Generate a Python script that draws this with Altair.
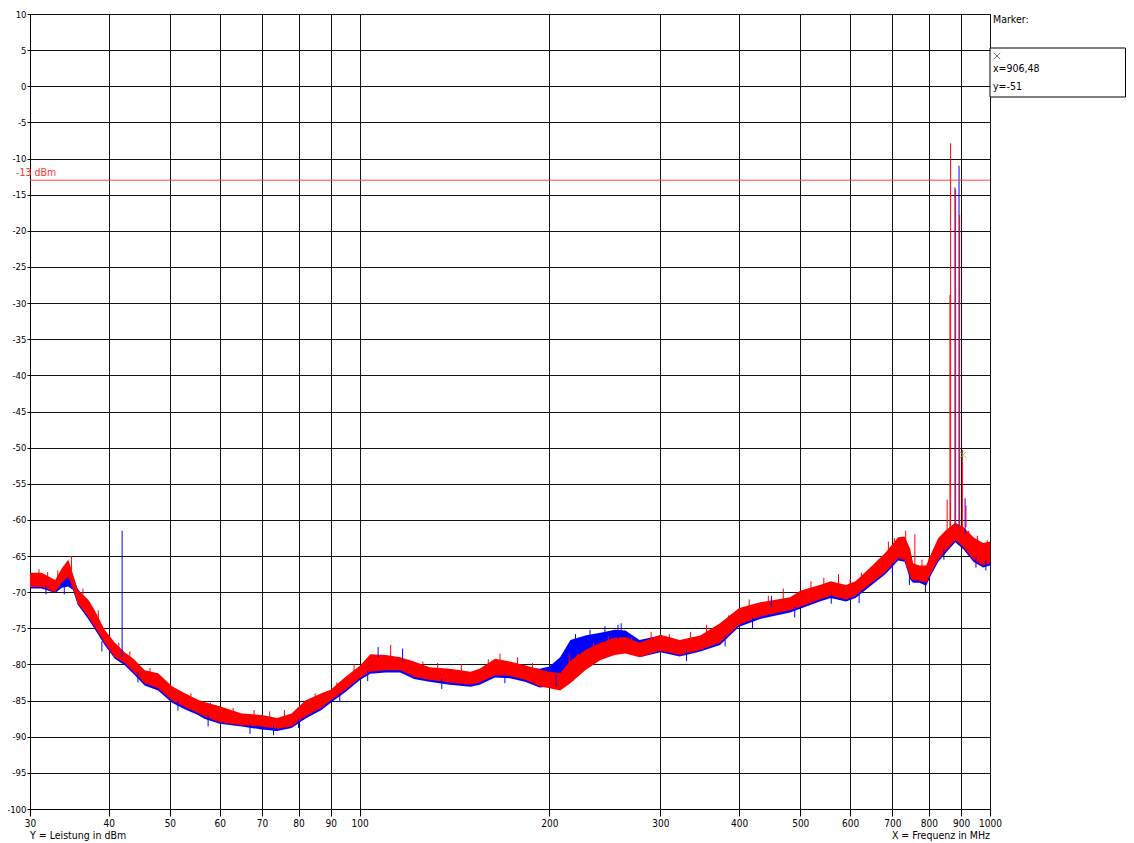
import altair as alt
import pandas as pd

FONT = "Liberation Sans Narrow, DejaVu Sans Condensed, Arial Narrow, sans-serif"

# Frequency grid (MHz) at which the envelopes were read
freq = [30, 31.3, 32.9, 33.7, 34.5, 35.1, 35.7, 37.1, 38.0, 39.4, 40.9, 42.4, 44.0, 45.6,
        47.9, 50.4, 52.8, 55.4, 56.7, 60, 65, 70, 74, 78, 82, 87, 90, 95, 100, 104, 110,
        116, 122, 129, 139, 150, 155, 164, 173, 183, 193, 200, 208, 216, 228, 241, 254,
        264, 278, 300, 322, 347, 373, 400, 432, 482, 500, 537, 559, 591, 612, 647, 683,
        715, 732, 747, 755, 773, 792, 808, 828, 852, 881, 908, 941, 975, 1000]

red_hi = [-67.3, -67.3, -68.3, -66.7, -65.5, -67.5, -69.7, -71.0, -72.5, -75.2, -77.0, -78.3,
          -79.4, -80.8, -81.2, -83.0, -84.0, -84.9, -85.2, -85.8, -86.8, -87.0, -87.4, -86.8,
          -85.0, -84.0, -83.5, -81.7, -80.2, -78.6, -78.7, -79.0, -79.6, -80.4, -80.6, -81.0,
          -80.6, -79.2, -79.6, -80.1, -80.7, -81.0, -81.2, -79.5, -78.0, -77.0, -76.3, -76.2,
          -77.0, -75.9, -76.6, -76.0, -74.3, -72.2, -71.4, -70.7, -69.8, -69.0, -68.5, -69.0,
          -68.5, -66.5, -64.5, -62.4, -62.3, -64.0, -66.0, -66.3, -66.3, -64.5, -62.5, -61.4,
          -60.4, -61.0, -62.4, -63.2, -63.0]
red_lo = [-69.3, -69.3, -70.0, -68.7, -67.9, -69.5, -71.5, -73.4, -74.8, -77.0, -79.0, -79.8,
          -81.2, -82.6, -83.3, -85.0, -85.9, -86.7, -87.2, -88.0, -88.4, -88.6, -88.9, -88.6,
          -87.2, -86.0, -85.0, -83.5, -81.9, -81.0, -80.8, -80.8, -81.7, -82.1, -82.5, -82.8,
          -82.5, -81.5, -81.6, -82.1, -83.0, -83.3, -83.6, -82.6, -80.8, -79.4, -78.7, -78.5,
          -79.0, -78.1, -78.7, -78.0, -77.0, -74.5, -73.4, -72.5, -72.0, -71.0, -70.5, -71.0,
          -70.5, -68.8, -67.2, -65.3, -65.5, -67.9, -68.4, -68.4, -68.8, -67.2, -65.5, -64.2,
          -62.8, -63.8, -65.5, -66.3, -66.0]

blue_hi = [-67.8, -67.8, -69.0, -68.0, -67.8, -67.8, -69.5, -71.5, -73.2, -75.5, -77.3, -78.6,
           -79.8, -81.2, -81.6, -83.3, -84.3, -85.2, -85.5, -86.0, -87.0, -87.3, -87.6, -87.0,
           -85.4, -84.3, -83.8, -82.0, -80.5, -79.0, -79.0, -79.3, -79.8, -80.6, -80.9, -81.2,
           -80.9, -79.5, -79.8, -80.3, -80.6, -80.3, -79.0, -76.6, -76.0, -75.6, -75.2, -75.3,
           -76.6, -76.0, -76.8, -76.2, -74.6, -72.5, -71.6, -71.0, -70.0, -69.2, -68.7, -69.3,
           -68.8, -66.8, -64.8, -62.7, -62.6, -64.3, -66.3, -66.6, -66.6, -64.8, -62.8, -61.7,
           -60.7, -61.3, -62.7, -63.5, -63.3]
blue_lo = [-69.5, -69.5, -70.1, -69.4, -69.2, -69.7, -71.7, -73.7, -75.1, -77.3, -79.2, -80.1,
           -81.5, -82.9, -83.6, -85.3, -86.2, -87.0, -87.5, -88.2, -88.6, -89.0, -89.2, -88.8,
           -87.5, -86.3, -85.3, -83.8, -82.2, -81.3, -81.1, -81.1, -82.0, -82.4, -82.8, -83.1,
           -82.8, -81.8, -81.9, -82.4, -83.2, -83.1, -82.2, -80.3, -78.7, -78.0, -77.0, -77.5,
           -79.0, -78.3, -78.9, -78.2, -77.3, -74.8, -73.7, -72.8, -72.3, -71.3, -70.8, -71.3,
           -70.8, -69.1, -67.5, -65.6, -65.8, -68.2, -68.7, -68.7, -69.1, -67.5, -65.8, -64.5,
           -63.1, -64.1, -65.8, -66.6, -66.3]

# Narrow noise spikes and carriers (frequency, bottom, top)
red_spike_f = [31.0, 32.0, 33.2, 34.9, 36.4, 38.5, 41.5, 43.2, 46.5, 49.0, 54.0, 58.0, 63.0,
               68.0, 72.0, 76.0, 85.0, 92.0, 98.0, 112, 126, 133, 145, 160, 167, 178, 188,
               215, 222, 235, 248, 270, 290, 310, 335, 355, 385, 415, 445, 470, 520, 545,
               575, 600, 625, 665, 690, 705, 735, 760, 780, 800, 835, 855, 864, 866, 882,
               895, 904, 916, 925, 955, 990]
red_spike_lo = [-68.5, -69.0, -69.0, -67.0, -71.0, -74.5, -78.5, -80.0, -82.5, -84.0, -85.5,
                -87.0, -87.5, -88.0, -88.0, -88.0, -86.0, -84.5, -82.0, -79.0, -81.5, -81.5,
                -82.0, -81.0, -80.0, -81.0, -82.0, -80.0, -80.5, -79.0, -78.0, -78.0, -77.5,
                -77.5, -77.5, -76.5, -75.0, -73.0, -72.5, -71.5, -70.5, -70.0, -69.5, -70.0,
                -69.5, -67.5, -65.0, -64.5, -64.0, -66.5, -67.5, -67.5, -64.5, -63.0, -62.0,
                -62.0, -61.0, -61.0, -61.0, -61.0, -63.5, -64.5, -65.0]
red_spike_hi = [-66.8, -67.2, -67.0, -65.0, -69.5, -72.5, -77.0, -78.2, -80.5, -82.2, -84.0,
                -85.3, -86.0, -86.3, -86.5, -86.3, -84.0, -82.5, -80.0, -77.3, -79.6, -79.8,
                -80.0, -79.3, -78.5, -79.0, -79.8, -78.5, -78.5, -77.0, -76.0, -76.3, -75.5,
                -75.8, -75.5, -74.5, -73.2, -71.0, -70.5, -69.5, -68.5, -68.0, -67.5, -68.2,
                -67.3, -65.5, -63.0, -62.5, -61.5, -62.0, -65.5, -65.3, -62.5, -57.2, -28.9,
                -7.9, -14.3, -17.8, -50.3, -58.0, -61.5, -62.2, -62.8]

blue_spike_f = [31.8, 34.0, 39.0, 42.0, 44.5, 51.5, 57.5, 67.0, 73.0, 80.0, 93.0, 103, 107,
                117, 135, 170, 205, 220, 232, 245, 257, 260, 330, 380, 420, 450, 490, 560,
                620, 700, 745, 790, 845, 880, 893, 913, 950, 985]
blue_spike_lo = [-70.3, -70.3, -78.2, -79.0, -82.5, -86.4, -88.6, -89.6, -89.8, -88.8, -85.2,
                 -82.3, -79.0, -79.5, -83.4, -82.6, -83.0, -78.5, -77.5, -77.0, -76.5, -75.5,
                 -79.5, -77.5, -75.0, -72.0, -73.5, -71.6, -71.5, -67.5, -69.0, -70.0, -65.5,
                 -61.0, -61.0, -62.0, -66.6, -67.0]
blue_spike_hi = [-69.0, -69.2, -76.8, -61.5, -81.0, -85.0, -87.0, -88.2, -88.4, -87.5, -84.0,
                 -80.8, -77.6, -77.8, -82.0, -81.2, -81.5, -75.8, -75.2, -74.7, -74.5, -74.3,
                 -78.0, -76.0, -73.5, -70.5, -72.0, -70.2, -70.0, -66.0, -67.5, -68.5, -64.0,
                 -14.0, -11.0, -57.0, -65.0, -65.6]

x_ticks = [30, 40, 50, 60, 70, 80, 90, 100, 200, 300, 400, 500, 600, 700, 800, 900, 1000]
y_ticks = list(range(-100, 11, 5))
limit_db = [-13]
marker_x = [906.48]
marker_y = [-51]

W, H = 960, 795

xs = alt.Scale(type="log", domain=[30, 1000], nice=False)
ys = alt.Scale(domain=[-100, 10], nice=False, zero=False)

AX = dict(domainColor="black", tickColor="black", gridColor="#111111", gridOpacity=1,
          gridWidth=1, labelColor="black", labelFont=FONT, domainWidth=1,
          labelOverlap=False, title=None, grid=True, labelExpr="'' + datum.value")
xax = alt.Axis(values=x_ticks, tickSize=7, labelPadding=2, labelFlush=False,
               labelFontSize=10, **AX)
yax = alt.Axis(values=y_ticks, tickSize=3, labelPadding=1, labelFontSize=9.5, **AX)


def X(field):
    return alt.X(field, type="quantitative", scale=xs, axis=xax)


def Y(field):
    return alt.Y(field, type="quantitative", scale=ys, axis=yax)


band_blue = pd.DataFrame({"f": freq, "lo": blue_lo, "hi": blue_hi})
band_red = pd.DataFrame({"f": freq, "lo": red_lo, "hi": red_hi})
sp_red = pd.DataFrame({"f": red_spike_f, "lo": red_spike_lo, "hi": red_spike_hi})
sp_blue = pd.DataFrame({"f": blue_spike_f, "lo": blue_spike_lo, "hi": blue_spike_hi})

base_blue = alt.Chart(band_blue).mark_area(color="#0000ff", opacity=1).encode(
    x=X("f"), y=Y("lo"), y2="hi")
base_red = alt.Chart(band_red).mark_area(color="#ff0000", opacity=1).encode(
    x=X("f"), y=Y("lo"), y2="hi")
spikes_blue = alt.Chart(sp_blue).mark_rule(color="#0000ff", strokeWidth=1).encode(
    x=X("f"), y=Y("lo"), y2="hi")
spikes_red = alt.Chart(sp_red).mark_rule(color="#ff0000", strokeWidth=1).encode(
    x=X("f"), y=Y("lo"), y2="hi")

limit = alt.Chart(pd.DataFrame({"y": limit_db})).mark_rule(color="#ff4444", strokeWidth=1).encode(
    y=Y("y"))

cross = "M-1,-1L1,1M-1,1L1,-1"
marker = alt.Chart(pd.DataFrame({"f": marker_x, "y": marker_y})).mark_point(
    shape=cross, color="#44dd44", filled=False, size=40, strokeWidth=1).encode(
    x=X("f"), y=Y("y"))


def label(text, x, y, align="left", color="black", size=10.5):
    return alt.Chart(pd.DataFrame({"t": [text]})).mark_text(
        align=align, baseline="middle", font=FONT, fontSize=size, color=color).encode(
        x=alt.value(x), y=alt.value(y), text="t:N")


limit_label = label("-13 dBm", -14, 159, color="#ff3333")
ytitle = label("Y = Leistung in dBm", 0, 822)
xtitle = label("X = Frequenz in MHz", 960, 822, align="right")
marker_title = label("Marker:", 963, 6)

box = alt.Chart(pd.DataFrame({"a": [0]})).mark_rect(fill="white", stroke="black", strokeWidth=1).encode(
    x=alt.value(960), x2=alt.value(1095.5), y=alt.value(34), y2=alt.value(83))
box_icon = alt.Chart(pd.DataFrame({"a": [0]})).mark_point(
    shape=cross, color="black", filled=False, size=40, strokeWidth=0.8).encode(
    x=alt.value(967), y=alt.value(42))
box_x = label("x=906,48", 963, 55)
box_y = label("y=-51", 963, 73)

chart = alt.layer(
    base_blue, base_red, spikes_blue, spikes_red, limit, marker,
    limit_label, ytitle, xtitle, marker_title, box, box_icon, box_x, box_y,
).properties(
    width=W, height=H,
    background="white",
    autosize=alt.AutoSizeParams(type="none"),
    padding={"left": 22, "top": 6, "right": 136, "bottom": 34},
).configure_view(
    stroke="black", strokeWidth=1,
)

chart.save("out.html", embed_options={"renderer": "svg", "actions": False})
